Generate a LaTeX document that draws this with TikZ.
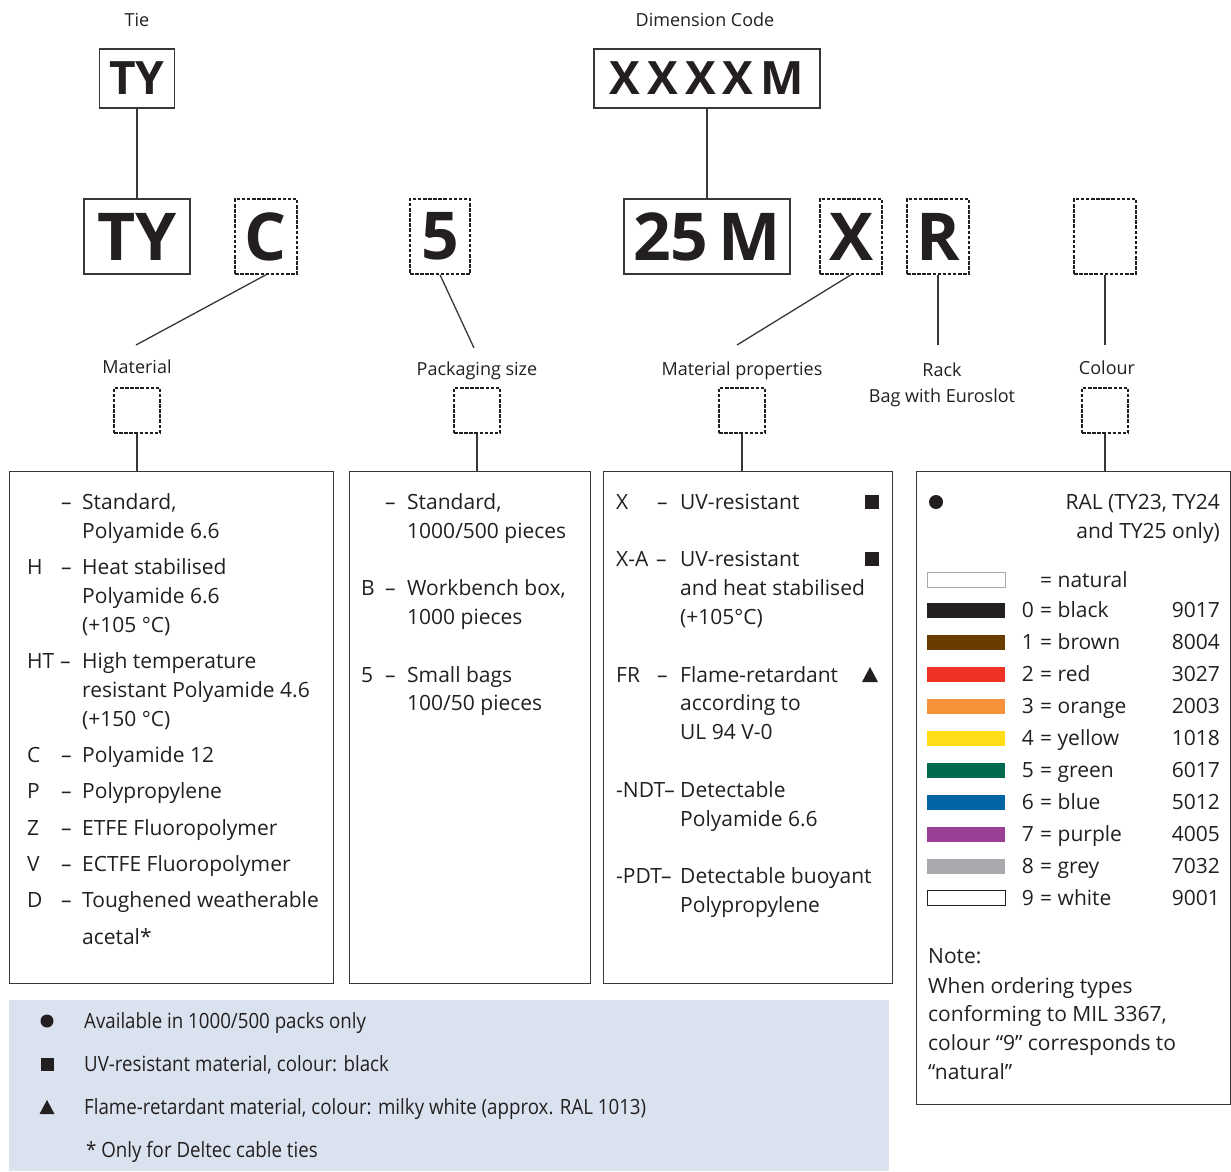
\documentclass[tikz,border=0pt]{standalone}
\usepackage{fontspec}
\setmainfont{Open Sans}
\newfontfamily\condfont[FakeStretch=0.89]{Open Sans}
\definecolor{ink}{RGB}{35,31,32}
\definecolor{linec}{RGB}{55,55,55}
\definecolor{legbg}{RGB}{219,226,239}
\definecolor{cblack}{RGB}{35,31,32}
\definecolor{cbrown}{RGB}{106,60,0}
\definecolor{cred}{RGB}{238,50,36}
\definecolor{corange}{RGB}{247,146,58}
\definecolor{cyellow}{RGB}{255,222,23}
\definecolor{cgreen}{RGB}{0,105,79}
\definecolor{cblue}{RGB}{0,101,164}
\definecolor{cpurple}{RGB}{154,62,150}
\definecolor{cgrey}{RGB}{167,169,172}
\tikzset{
  txt/.style={inner sep=0, anchor=base west, font=\fontsize{21}{25}\selectfont, text=ink},
  txtr/.style={inner sep=0, anchor=base east, font=\fontsize{21}{25}\selectfont, text=ink},
  lab/.style={inner sep=0, anchor=base, font=\fontsize{18}{22}\selectfont, text=ink},
  leg/.style={inner sep=0, anchor=base west, font=\condfont\fontsize{21}{25}\selectfont, text=ink},
  solidbox/.style={draw=linec, line width=1.4, inner sep=0},
  dbox/.style={draw=ink, line width=1.5, dash pattern=on 3.5pt off 1.6pt, inner sep=0},
  big/.style={font=\fontsize{46}{50}\selectfont\bfseries, text=ink},
  huge/.style={font=\fontsize{66}{70}\selectfont\bfseries, text=ink},
  conn/.style={draw=linec, line width=1.3},
  swatch/.style={inner sep=0, minimum width=78, minimum height=15, anchor=west},
}
\begin{document}
\begin{tikzpicture}[x=1pt,y=-1pt]
\useasboundingbox (0,0) rectangle (1231,1171);
% ---------- headings
\node[lab] (tieL) at (137,26.5) {Tie};
\node[lab] (dimL) at (705,26.5) {Dimension Code};
% ---------- top boxes
\node[solidbox,big,minimum width=75,minimum height=59] (ty1) at (137,78.5) {TY};
\node[solidbox,big,minimum width=226,minimum height=59] (xm) at (707,78.5) {X\kern7pt X\kern7pt X\kern7pt X\kern7pt M};
% ---------- code row
\node[solidbox,huge,minimum width=106,minimum height=75] (ty2) at (137,236.5) {TY};
\node[dbox,huge,minimum width=62,minimum height=75] (cb) at (266,236.5) {C};
\node[dbox,huge,minimum width=60,minimum height=75] (fb) at (440,236.5) {5};
\node[solidbox,huge,minimum width=166,minimum height=75] (mb) at (707,236.5) {25\kern10pt M};
\node[dbox,huge,minimum width=62,minimum height=75] (xb) at (851,236.5) {X};
\node[dbox,huge,minimum width=62,minimum height=75] (rb) at (938,236.5) {R};
\node[dbox,minimum width=62,minimum height=75] (eb) at (1105,236.5) {};
\draw[conn] (ty1.south) -- (ty2.north);
\draw[conn] (xm.south -| mb.north) -- (mb.north);
% ---------- free ends
\coordinate (ce) at (136,345);
\coordinate (fe) at (474,348);
\coordinate (xe) at (737,345);
\coordinate (re) at (938,345);
\coordinate (ee) at (1105,345);
\draw[conn] (cb.south) -- (ce);
\draw[conn] (fb.south) -- (fe);
\draw[conn] (xb.south) -- (xe);
\draw[conn] (rb.south) -- (re);
\draw[conn] (eb.south) -- (ee);
% ---------- category labels
\node[lab] (matL) at (137,373.5) {Material};
\node[lab] (packL) at (477,375.5) {Packaging size};
\node[lab] (propL) at (742,375.5) {Material properties};
\node[lab] (rackL) at (942,376.5) {Rack};
\node[lab] (bagL) at (942,402.5) {Bag with Euroslot};
\node[lab] (colL) at (1107,374.5) {Colour};
% ---------- small dashed boxes
\node[dbox,minimum width=46,minimum height=45] (sm1) at (137,410.5) {};
\node[dbox,minimum width=46,minimum height=45] (sm2) at (477,410.5) {};
\node[dbox,minimum width=46,minimum height=45] (sm3) at (742,410.5) {};
\node[dbox,minimum width=46,minimum height=45] (sm4) at (1105,410.5) {};
% ---------- big boxes
\node[solidbox,anchor=north west,minimum width=324,minimum height=512] (matbox) at (9,471) {};
\node[solidbox,anchor=north west,minimum width=241,minimum height=512] (packbox) at (349,471) {};
\node[solidbox,anchor=north west,minimum width=289,minimum height=512] (propbox) at (603,471) {};
\node[solidbox,anchor=north west,minimum width=314,minimum height=633] (colbox) at (916,471) {};
\draw[conn] (sm1.south) -- (sm1.south |- matbox.north);
\draw[conn] (sm2.south) -- (sm2.south |- packbox.north);
\draw[conn] (sm3.south) -- (sm3.south |- propbox.north);
\draw[conn] (sm4.south) -- (sm4.south |- colbox.north);
% ---------- material box
\foreach \y/\t [count=\i] in {502/{Standard,},531/{Polyamide 6.6},567/{Heat stabilised},596/{Polyamide 6.6},625/{(+105 °C)},661/{High temperature},690/{resistant Polyamide 4.6},719/{(+150 °C)},755/{Polyamide 12},791/{Polypropylene},828/{ETFE Fluoropolymer},864/{ECTFE Fluoropolymer},900/{Toughened weatherable},937/{acetal*}}
  {\node[txt] (mt\i) at (82,\y+7.5) {\t};}
\foreach \y/\t [count=\i] in {567/H,661/HT,755/C,791/P,828/Z,864/V,900/D}
  {\node[txt] (mc\i) at (27,\y+7.5) {\t};}
\foreach \y [count=\i] in {502,567,755,791,828,864,900}
  {\node[txt] (md\i) at (61,\y+7.5) {–};}
\node[txt] (mdht) at (60,661+7.5) {–};
% ---------- packaging box
\foreach \y/\t [count=\i] in {502/{Standard,},531/{1000/500 pieces},588/{Workbench box,},617/{1000 pieces},675/{Small bags},703/{100/50 pieces}}
  {\node[txt] (pt\i) at (407,\y+7.5) {\t};}
\foreach \y [count=\i] in {502,588,675}
  {\node[txt] (pd\i) at (385,\y+7.5) {–};}
\node[txt] (pc1) at (361,588+7.5) {B};
\node[txt] (pc2) at (361,675+7.5) {5};
% ---------- properties box
\foreach \y/\t [count=\i] in {502/{UV-resistant},559/{UV-resistant},588/{and heat stabilised},617/{(+105°C)},675/{Flame-retardant},703/{according to},732/{UL 94 V-0},790/{Detectable},819/{Polyamide 6.6},876/{Detectable buoyant},905/{Polypropylene}}
  {\node[txt] (qt\i) at (680,\y+7.5) {\t};}
\node[txt] (qc1) at (616,502+7.5) {X};
\node[txt] (qd1) at (657,502+7.5) {–};
\node[txt] (qc2) at (616,559+7.5) {X-A};
\node[txt] (qd2) at (656,559+7.5) {–};
\node[txt] (qc3) at (616,675+7.5) {FR};
\node[txt] (qd3) at (657,675+7.5) {–};
\node[txt] (qc4) at (616,790+7.5) {-NDT–};
\node[txt] (qc5) at (616,876+7.5) {-PDT–};
\fill[ink] (865,495) rectangle (879,509);
\fill[ink] (865,552) rectangle (879,566);
\fill[ink] (862,682) -- (878,682) -- (870,667) -- cycle;
% ---------- colour box
\fill[ink] (936,502) circle (7);
\node[txtr] (ral1) at (1220,502+7.5) {RAL (TY23, TY24};
\node[txtr] (ral2) at (1220,531+7.5) {and TY25 only)};
\node[swatch,draw=cgrey,line width=1,fill=white] (swn) at (927,580) {};
\node[txt] (natT) at (1040,580+7.5) {= natural};
\foreach \c/\n/\r [count=\i from 0] in {cblack/black/9017,cbrown/brown/8004,cred/red/3027,corange/orange/2003,cyellow/yellow/1018,cgreen/green/6017,cblue/blue/5012,cpurple/purple/4005,cgrey/grey/7032}
  {\node[swatch,fill=\c] (sw\i) at (927,610+32*\i) {};
   \node[txtr] (swnum\i) at (1034,610+32*\i+7.5) {\i};
   \node[txt] (swname\i) at (1040,610+32*\i+7.5) {= \n};
   \node[txtr] (swral\i) at (1220,610+32*\i+7.5) {\r};}
\node[swatch,draw=ink,line width=1.2,fill=white] (sw9) at (927,898) {};
\node[txtr] (swnum9) at (1034,898+7.5) {9};
\node[txt] (swname9) at (1040,898+7.5) {= white};
\node[txtr] (swral9) at (1220,898+7.5) {9001};
\foreach \y/\t [count=\i] in {956/{Note:},986/{When ordering types},1014/{conforming to MIL 3367,},1043/{colour “9” corresponds to},1072/{“natural”}}
  {\node[txt] (nt\i) at (928,\y+7.5) {\t};}
% ---------- legend
\node[fill=legbg,inner sep=0,anchor=north west,minimum width=880,minimum height=171] (legbox) at (9,1000) {};
\fill[ink] (47,1021) circle (6.5);
\fill[ink] (40.5,1057.5) rectangle (53.5,1070.5);
\fill[ink] (39.5,1114) -- (54.5,1114) -- (47,1100) -- cycle;
\node[leg] (lg1) at (84,1021+7.5) {Available in 1000/500 packs only};
\node[leg] (lg2) at (84,1064+7.5) {UV-resistant material, colour: black};
\node[leg] (lg3) at (84,1107+7.5) {Flame-retardant material, colour: milky white (approx. RAL 1013)};
\node[leg] (lg4) at (86,1150+7.5) {* Only for Deltec cable ties};
\end{tikzpicture}
\end{document}
